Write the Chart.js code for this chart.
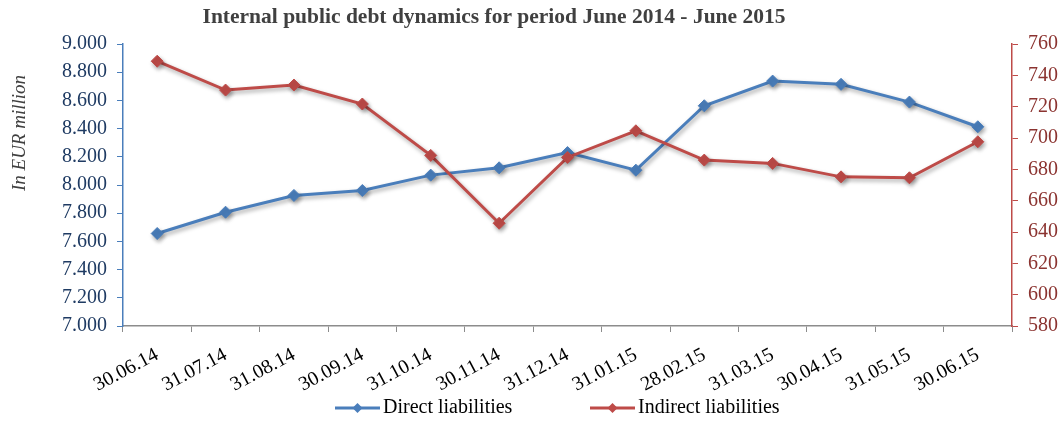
<!DOCTYPE html>
<html>
<head>
<meta charset="utf-8">
<script src="https://cdn.jsdelivr.net/npm/chart.js@4.4.1/dist/chart.umd.min.js"></script>
<style>
html,body{margin:0;padding:0;background:#fff;}
#wrap{width:1063px;height:421px;position:relative;}
</style>
</head>
<body>
<div id="wrap"><canvas id="c" width="1063" height="421"></canvas></div>
<script>
const categories = ['30.06.14','31.07.14','31.08.14','30.09.14','31.10.14','30.11.14','31.12.14','31.01.15','28.02.15','31.03.15','30.04.15','31.05.15','30.06.15'];
const directLiabilities = [7656, 7807, 7926, 7961, 8070, 8122, 8230, 8105, 8562, 8737, 8714, 8588, 8413];
const indirectLiabilities = [749, 730.6, 733.8, 721.7, 688.9, 645.6, 687.6, 704.6, 685.9, 683.8, 675.2, 674.6, 697.6];
const leftTicks = [7000, 7200, 7400, 7600, 7800, 8000, 8200, 8400, 8600, 8800, 9000];
const rightTicks = [580, 600, 620, 640, 660, 680, 700, 720, 740, 760];
const titleText = 'Internal public debt dynamics for period June 2014 - June 2015';
const yTitleText = 'In EUR million';
const seriesNames = ['Direct liabilities', 'Indirect liabilities'];

const BLUE = '#4A7EBB';
const RED = '#BE4B48';
const SERIF = '"Liberation Serif", "Times New Roman", serif';

const shadowPlugin = {
  id: 'shadow',
  beforeDatasetDraw(chart) {
    const ctx = chart.ctx;
    ctx.save();
    ctx.shadowColor = 'rgba(0,0,0,0.35)';
    ctx.shadowBlur = 4;
    ctx.shadowOffsetX = 1.5;
    ctx.shadowOffsetY = 2.5;
  },
  afterDatasetDraw(chart) { chart.ctx.restore(); }
};

const textPlugin = {
  id: 'texts',
  afterDraw(chart) {
    const ctx = chart.ctx;
    ctx.save();
    // title
    ctx.fillStyle = '#404040';
    ctx.font = 'bold 21.5px ' + SERIF;
    ctx.textAlign = 'center';
    ctx.textBaseline = 'middle';
    ctx.fillText(titleText, 494, 17);
    // y axis title
    ctx.save();
    ctx.translate(20, 133);
    ctx.rotate(-Math.PI / 2);
    ctx.font = 'italic 19px ' + SERIF;
    ctx.fillStyle = '#404040';
    ctx.fillText(yTitleText, 0, 0);
    ctx.restore();
    // legend
    const items = [
      {x: 335, ds: chart.data.datasets[0]},
      {x: 590, ds: chart.data.datasets[1]}
    ];
    const ly = 408;
    items.forEach(it => {
      ctx.strokeStyle = it.ds.borderColor;
      ctx.lineWidth = 3;
      ctx.beginPath();
      ctx.moveTo(it.x, ly);
      ctx.lineTo(it.x + 45, ly);
      ctx.stroke();
      ctx.fillStyle = it.ds.borderColor;
      const cx = it.x + 22.5, r = 5;
      ctx.beginPath();
      ctx.moveTo(cx, ly - r); ctx.lineTo(cx + r, ly); ctx.lineTo(cx, ly + r); ctx.lineTo(cx - r, ly); ctx.closePath();
      ctx.fill();
      ctx.fillStyle = '#000';
      ctx.font = '20px ' + SERIF;
      ctx.textAlign = 'left';
      ctx.fillText(it.ds.label, it.x + 48, ly);
    });
    ctx.restore();
  }
};

new Chart(document.getElementById('c'), {
  type: 'line',
  data: {
    labels: categories,
    datasets: [
      {
        label: seriesNames[0], data: directLiabilities, yAxisID: 'y',
        borderColor: BLUE, backgroundColor: BLUE, borderWidth: 3,
        pointStyle: 'rectRot', pointRadius: 6, pointHoverRadius: 6,
        pointBackgroundColor: BLUE, pointBorderColor: BLUE, pointBorderWidth: 1,
        tension: 0, order: 1
      },
      {
        label: seriesNames[1], data: indirectLiabilities, yAxisID: 'y1',
        borderColor: RED, backgroundColor: RED, borderWidth: 3,
        pointStyle: 'rectRot', pointRadius: 6, pointHoverRadius: 6,
        pointBackgroundColor: RED, pointBorderColor: RED, pointBorderWidth: 1,
        tension: 0, order: 0
      }
    ]
  },
  options: {
    responsive: false,
    animation: false,
    events: [],
    layout: { padding: { top: 44, left: 0, right: 0, bottom: 0 } },
    plugins: { legend: { display: false }, title: { display: false }, tooltip: { enabled: false } },
    scales: {
      x: {
        offset: true,
        grid: { display: true, drawOnChartArea: false, drawTicks: true, tickLength: 6, color: '#8c8c8c', offset: true },
        border: { display: true, color: '#8c8c8c', width: 1.5 },
        ticks: { color: '#000', font: { family: SERIF, size: 20 }, maxRotation: 28, minRotation: 28, autoSkip: false, padding: 11 },
        afterFit(s) { s.height = 95; }
      },
      y: {
        position: 'left', min: 7000, max: 9000,
        afterBuildTicks(s) { s.ticks = leftTicks.map(v => ({ value: v })); },
        grid: { display: true, drawOnChartArea: false, drawTicks: true, tickLength: 6, color: '#4A7EBB' },
        border: { display: true, color: '#4A7EBB', width: 1.5 },
        ticks: { color: '#1F3B63', font: { family: SERIF, size: 20 }, padding: 10,
          callback: v => (v / 1000).toFixed(3) },
        afterFit(s) { s.width = 123; }
      },
      y1: {
        position: 'right', min: 580, max: 760,
        afterBuildTicks(s) { s.ticks = rightTicks.map(v => ({ value: v })); },
        grid: { display: true, drawOnChartArea: false, drawTicks: true, tickLength: 6, color: '#BE4B48' },
        border: { display: true, color: '#BE4B48', width: 1.5 },
        ticks: { color: '#8B3330', font: { family: SERIF, size: 20 }, padding: 10,
          callback: v => String(v) },
        afterFit(s) { s.width = 51; }
      }
    }
  },
  plugins: [shadowPlugin, textPlugin]
});
</script>
</body>
</html>
